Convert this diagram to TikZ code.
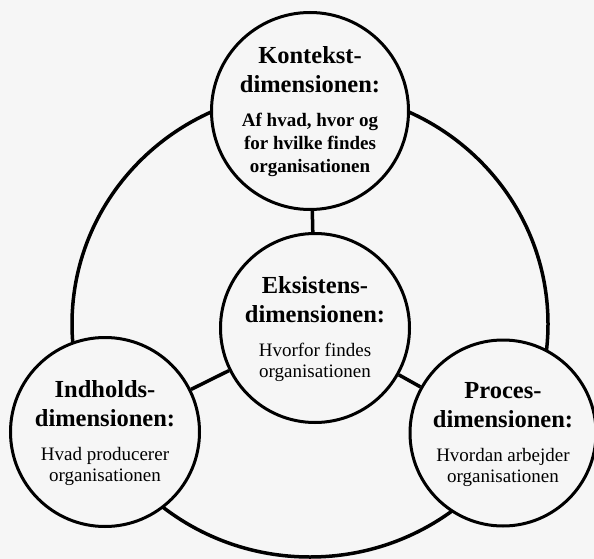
\documentclass[tikz,border=0pt]{standalone}
\usepackage{fontspec}
\setmainfont{Liberation Serif}
\usetikzlibrary{positioning}
\definecolor{paper}{gray}{0.965}

\begin{document}
\begin{tikzpicture}[x=1pt,y=-1pt,
  dimension/.style={circle,draw,line width=3pt,fill=paper,inner sep=0pt},
  forbind/.style={line width=3.5pt},
  ring/.style={line width=3.5pt}]

\def\titelfont{\fontsize{24.5}{29}\selectfont\bfseries}
\def\broedfont{\fontsize{19}{21}\selectfont\mdseries}
\def\dimtekst#1#2{\titelfont
  \begin{tabular}{@{}c@{}}
  #1\\
  dimensionen:\\[5pt]
  \broedfont\begin{tabular}[t]{@{}c@{}}#2\end{tabular}
  \end{tabular}}

\fill[paper] (0,0) rectangle (594,559);
\useasboundingbox (0,0) rectangle (594,559);

\draw[ring] (310,324) ellipse [x radius=238, y radius=233];

\node[dimension,minimum size=197] (kontekst) at (310,111)
  {\dimtekst{Kontekst-}{\bfseries Af hvad, hvor og\\[2pt]\bfseries for hvilke findes\\[2pt]\bfseries organisationen}};
\node[dimension,minimum size=189] (eksistens) at (315,328)
  {\dimtekst{Eksistens-}{Hvorfor findes\\organisationen}};
\node[dimension,minimum size=189] (indhold) at (105,432)
  {\dimtekst{Indholds-}{Hvad producerer\\organisationen}};
\node[dimension,minimum size=186] (proces) at (503,433)
  {\dimtekst{Proces-}{Hvordan arbejder\\organisationen}};

\draw[forbind] (kontekst) -- (eksistens);
\draw[forbind] (eksistens) -- (indhold);
\draw[forbind] (eksistens) -- (proces);

\end{tikzpicture}
\end{document}
